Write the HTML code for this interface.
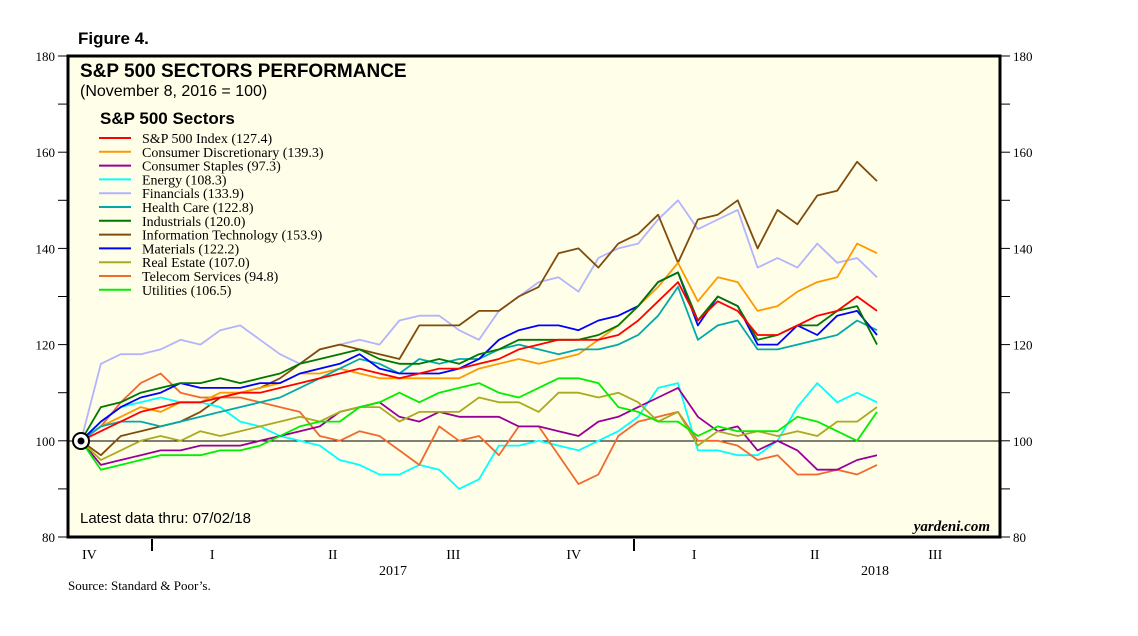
<!DOCTYPE html>
<html><head><meta charset="utf-8">
<style>
body{margin:0;background:#fff;width:1138px;height:631px;overflow:hidden}
svg text{font-family:"Liberation Sans",sans-serif}
.serif{font-family:"Liberation Serif",serif}
</style></head>
<body>
<svg id="chart" width="1138" height="631" viewBox="0 0 1138 631" xmlns="http://www.w3.org/2000/svg">
<text x="78" y="44" font-size="17" font-weight="bold">Figure 4.</text>
<rect x="68" y="56" width="932" height="481" fill="#fffee8" stroke="#000" stroke-width="3"/>
<g id="yaxes"></g>
<line x1="68" x2="1000" y1="441" y2="441" stroke="#000" stroke-width="1"/>
<g id="series"></g>
<g><circle cx="81" cy="441" r="8" fill="#fff" stroke="#000" stroke-width="2"/><circle cx="81" cy="441" r="3.5" fill="#000"/></g>
<text x="80" y="77" font-size="19" font-weight="bold">S&amp;P 500 SECTORS PERFORMANCE</text>
<text x="80" y="96" font-size="16">(November 8, 2016 = 100)</text>
<text x="100" y="124" font-size="17" font-weight="bold">S&amp;P 500 Sectors</text>
<g id="legend"></g>
<text x="80" y="523" font-size="15">Latest data thru: 07/02/18</text>
<text class="serif" x="990" y="531" font-size="15" font-weight="bold" font-style="italic" text-anchor="end">yardeni.com</text>
<g id="xaxis"></g>
<text class="serif" x="68" y="590" font-size="13">Source: Standard &amp; Poor’s.</text>
</svg>
<script>
const yTicks=[80,100,120,140,160,180];
const quarterLabels=["IV","I","II","III","IV","I","II","III"];
const quarterIdx=[-0.52,0.5,1.5,2.5,3.5,4.5,5.5,6.5];
const yearLabels=["2017","2018"];
const names=["S&P 500 Index (127.4)","Consumer Discretionary (139.3)","Consumer Staples (97.3)","Energy (108.3)","Financials (133.9)","Health Care (122.8)","Industrials (120.0)","Information Technology (153.9)","Materials (122.2)","Real Estate (107.0)","Telecom Services (94.8)","Utilities (106.5)"];
const colors=["#ff0000","#ff9900","#990099","#00ffff","#b3b3ff","#00aaaa","#007700","#804c0d","#0000ff","#aaaa22","#f06a30","#00ee00"];
const sp500=[100,102,104,106,107,108,108,109,110,110,111,112,113,114,115,114,113,114,115,115,116,117,119,120,121,121,121,122,125,129,133,125,129,127,122,122,124,126,127,130,127];
const consDisc=[100,103,105,107,106,108,108,110,110,111,112,114,114,115,114,113,113,113,113,113,115,116,117,116,117,118,121,124,128,132,137,129,134,133,127,128,131,133,134,141,139];
const consStaples=[100,95,96,97,98,98,99,99,99,100,101,102,103,106,107,108,105,104,106,105,105,105,103,103,102,101,104,105,107,109,111,105,102,103,98,100,98,94,94,96,97];
const energy=[100,104,107,108,109,108,108,107,104,103,101,100,99,96,95,93,93,95,94,90,92,99,99,100,99,98,100,102,105,111,112,98,98,97,97,100,107,112,108,110,108];
const financials=[100,116,118,118,119,121,120,123,124,121,118,116,119,120,121,120,125,126,126,123,121,127,130,133,134,131,138,140,141,146,150,144,146,148,136,138,136,141,137,138,134];
const healthCare=[100,103,104,104,103,104,105,106,107,108,109,111,113,115,117,116,114,117,116,117,117,119,120,119,118,119,119,120,122,126,132,121,124,125,119,119,120,121,122,125,123];
const industrials=[100,107,108,110,111,112,112,113,112,113,114,116,117,118,119,117,116,116,117,116,118,119,121,121,121,121,122,124,128,133,135,125,130,128,121,122,124,124,127,128,120];
const infoTech=[100,97,101,102,103,104,106,109,110,111,113,116,119,120,119,118,117,124,124,124,127,127,130,132,139,140,136,141,143,147,137,146,147,150,140,148,145,151,152,158,154];
const materials=[100,104,107,109,110,112,111,111,111,112,112,114,115,116,118,115,114,114,114,115,117,121,123,124,124,123,125,126,128,133,135,124,130,128,120,120,124,122,126,127,122];
const realEstate=[100,96,98,100,101,100,102,101,102,103,104,105,104,106,107,107,104,106,106,106,109,108,108,106,110,110,109,110,108,104,106,99,102,101,102,101,102,101,104,104,107];
const telecom=[100,103,108,112,114,110,109,109,109,108,107,106,101,100,102,101,98,95,103,100,101,97,103,103,97,91,93,101,104,105,106,100,100,99,96,97,93,93,94,93,95];
const utilities=[100,94,95,96,97,97,97,98,98,99,101,103,104,104,107,108,110,108,110,111,112,110,109,111,113,113,112,107,106,104,104,101,103,102,102,102,105,104,102,100,106];
const seriesData=[sp500,consDisc,consStaples,energy,financials,healthCare,industrials,infoTech,materials,realEstate,telecom,utilities];
const drawOrder=[4,7,3,10,2,9,11,1,5,8,6,0];
const NS="http://www.w3.org/2000/svg";
const X0=81,X1=877,Y0=56,Y1=537,VMIN=80,VMAX=180;
function yScale(v){return Y1-(v-VMIN)/(VMAX-VMIN)*(Y1-Y0);}
function xScale(i,n){return X0+i*(X1-X0)/(n-1);}
function qx(q){return 152+q*120.5;}
function el(tag,attrs,parent){const e=document.createElementNS(NS,tag);for(const k in attrs)e.setAttribute(k,attrs[k]);parent.appendChild(e);return e;}
const yg=document.getElementById('yaxes');
for(let v=VMIN;v<=VMAX;v+=10){
  const y=yScale(v);
  const tl=el('line',{x1:58,x2:68,y1:y,y2:y,stroke:'#000','stroke-width':1},yg);
  
  
  const tr=el('line',{x1:1000,x2:1010,y1:y,y2:y,stroke:'#000','stroke-width':1},yg);
  
  
}
yTicks.forEach(v=>{
  const y=yScale(v)+5;
  const a=el('text',{x:55,y:y,'font-size':13,'text-anchor':'end',class:'serif'},yg);a.textContent=v;
  
  
  const b=el('text',{x:1013,y:y,'font-size':13,class:'serif'},yg);b.textContent=v;
  
  
});
const sg=document.getElementById('series');
drawOrder.forEach(k=>{
  const d=seriesData[k];
  const pts=d.map((v,i)=>xScale(i,d.length).toFixed(1)+','+yScale(v).toFixed(1)).join(' ');
  const p=el('polyline',{points:pts,fill:'none',stroke:colors[k],'stroke-width':1.8,'stroke-linejoin':'round'},sg);
  
  
});
const lg=document.getElementById('legend');
names.forEach((n,i)=>{
  const y=138+i*13.8;
  const l=el('line',{x1:99,x2:131,y1:y,y2:y,stroke:colors[i],'stroke-width':2},lg);
  
  
  const t=el('text',{x:142,y:y+5,'font-size':14,class:'serif'},lg);t.textContent=n;
  
  
});
const xg=document.getElementById('xaxis');
[0,4].forEach(q=>{
  const t=el('line',{x1:qx(q),x2:qx(q),y1:539,y2:551,stroke:'#000','stroke-width':2},xg);
  
  
});
quarterLabels.forEach((s,i)=>{
  const t=el('text',{x:qx(quarterIdx[i]),y:559,'font-size':14,'text-anchor':'middle',class:'serif'},xg);t.textContent=s;
  
  
});
yearLabels.forEach((s,i)=>{
  const t=el('text',{x:qx(2+4*i),y:575,'font-size':14,'text-anchor':'middle',class:'serif'},xg);t.textContent=s;
  
  
});
</script>
</body></html>
